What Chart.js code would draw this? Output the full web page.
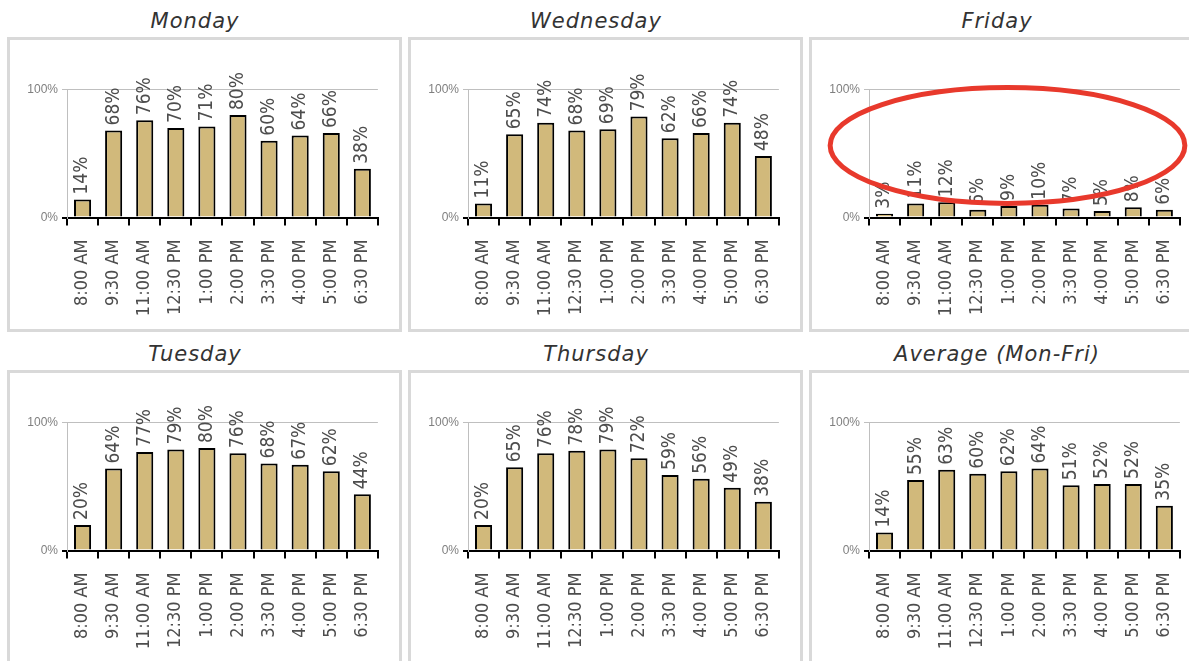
<!DOCTYPE html>
<html>
<head>
<meta charset="utf-8">
<title>Weekday occupancy</title>
<script src="https://cdn.jsdelivr.net/npm/chart.js@4"></script>
<style>
  body {
    margin: 0;
    background: #fff;
    width: 1189px;
    height: 661px;
    overflow: hidden;
    position: relative;
  }
  .title {
    position: absolute;
    width: 376px;
    text-align: center;
    font-family: "DejaVu Sans", sans-serif;
    font-style: italic;
    font-size: 21px;
    line-height: 21px;
    letter-spacing: 1px;
    color: #333;
  }
  .box {
    position: absolute;
    width: 389px;
    height: 289px;
    border: 3px solid #d9d9d9;
  }
</style>
</head>
<body>
<script>
const times = ["8:00 AM", "9:30 AM", "11:00 AM", "12:30 PM", "1:00 PM",
               "2:00 PM", "3:30 PM", "4:00 PM", "5:00 PM", "6:30 PM"];

const monday    = [14, 68, 76, 70, 71, 80, 60, 64, 66, 38];
const tuesday   = [20, 64, 77, 79, 80, 76, 68, 67, 62, 44];
const wednesday = [11, 65, 74, 68, 69, 79, 62, 66, 74, 48];
const thursday  = [20, 65, 76, 78, 79, 72, 59, 56, 49, 38];
const friday    = [3, 11, 12, 6, 9, 10, 7, 5, 8, 6];
const average   = [14, 55, 63, 60, 62, 64, 51, 52, 52, 35];

const yTicks = [0, 100];

// grid order: top row then bottom row
const panels = [
  ["Monday", monday], ["Wednesday", wednesday], ["Friday", friday],
  ["Tuesday", tuesday], ["Thursday", thursday], ["Average (Mon-Fri)", average],
];

// red ring drawn round the Friday bars (category index / percent units)
const fridayRing = { xFrom: -1.75, xTo: 9.66, yFrom: 11, yTo: 101.5 };

const narrow = '"Liberation Sans Narrow", "DejaVu Sans Condensed", "Liberation Sans", sans-serif';

const barLabels = {
  id: "barLabels",
  afterDatasetsDraw(chart) {
    const ctx = chart.ctx;
    const values = chart.data.datasets[0].data;
    ctx.save();
    ctx.font = "19px " + narrow;
    ctx.fillStyle = "#4d4d4d";
    ctx.textAlign = "left";
    ctx.textBaseline = "middle";
    chart.getDatasetMeta(0).data.forEach((bar, i) => {
      ctx.save();
      ctx.translate(bar.x, bar.y - 5);
      ctx.rotate(-Math.PI / 2);
      ctx.fillText(values[i] + "%", 0, 0);
      ctx.restore();
    });
    ctx.restore();
  }
};

const ring = {
  id: "ring",
  afterDraw(chart) {
    const x = chart.scales.x, y = chart.scales.y;
    const left = x.getPixelForValue(fridayRing.xFrom);
    const right = x.getPixelForValue(fridayRing.xTo);
    const top = y.getPixelForValue(fridayRing.yTo);
    const bottom = y.getPixelForValue(fridayRing.yFrom);
    const ctx = chart.ctx;
    ctx.save();
    ctx.strokeStyle = "#e8392c";
    ctx.lineWidth = 5;
    ctx.beginPath();
    ctx.ellipse((left + right) / 2, (top + bottom) / 2,
                (right - left) / 2, (bottom - top) / 2, 0, 0, Math.PI * 2);
    ctx.stroke();
    ctx.restore();
  }
};

function makePanel(name, values, index) {
  const col = index % 3, row = Math.floor(index / 3);
  const left = 7 + col * 401, top = 37 + row * 333;

  const title = document.createElement("div");
  title.className = "title";
  title.style.left = left + "px";
  title.style.top = (top - 26) + "px";
  title.textContent = name;
  document.body.appendChild(title);

  const box = document.createElement("div");
  box.className = "box";
  box.style.left = left + "px";
  box.style.top = top + "px";
  const canvas = document.createElement("canvas");
  canvas.width = 389;
  canvas.height = 289;
  box.appendChild(canvas);
  document.body.appendChild(box);

  new Chart(canvas, {
    type: "bar",
    data: {
      labels: times,
      datasets: [{
        data: values,
        backgroundColor: "#d1b97b",
        borderColor: "#000",
        borderWidth: 2,
        barPercentage: 0.55,
        categoryPercentage: 1
      }]
    },
    options: {
      responsive: false,
      animation: false,
      layout: { padding: { top: 49.5, right: 21, left: 0, bottom: 0 } },
      plugins: { legend: { display: false }, tooltip: { enabled: false } },
      scales: {
        x: {
          afterFit: s => { s.height = 111.5; },
          border: { color: "#000", width: 2 },
          grid: { drawOnChartArea: false, color: "#000", lineWidth: 2, tickLength: 8, offset: true },
          ticks: {
            autoSkip: false, minRotation: 90, maxRotation: 90, padding: 14,
            color: "#4d4d4d", font: { family: narrow, size: 18 }
          }
        },
        y: {
          min: yTicks[0],
          max: yTicks[1],
          afterFit: s => { s.width = 57; },
          afterBuildTicks: s => { s.ticks = yTicks.map(v => ({ value: v })); },
          border: { color: "#bfbfbf", width: 1 },
          grid: {
            color: c => c.tick && c.tick.value === 0 ? "#000" : "#bfbfbf",
            lineWidth: c => c.tick && c.tick.value === 0 ? 2 : 1,
            tickLength: 5
          },
          ticks: {
            padding: 4, color: "#7f7f7f",
            font: { family: '"Liberation Sans", sans-serif', size: 12 },
            callback: v => v + "%"
          }
        }
      }
    },
    plugins: name === "Friday" ? [barLabels, ring] : [barLabels]
  });
}

panels.forEach(([name, values], i) => makePanel(name, values, i));
</script>
</body>
</html>
